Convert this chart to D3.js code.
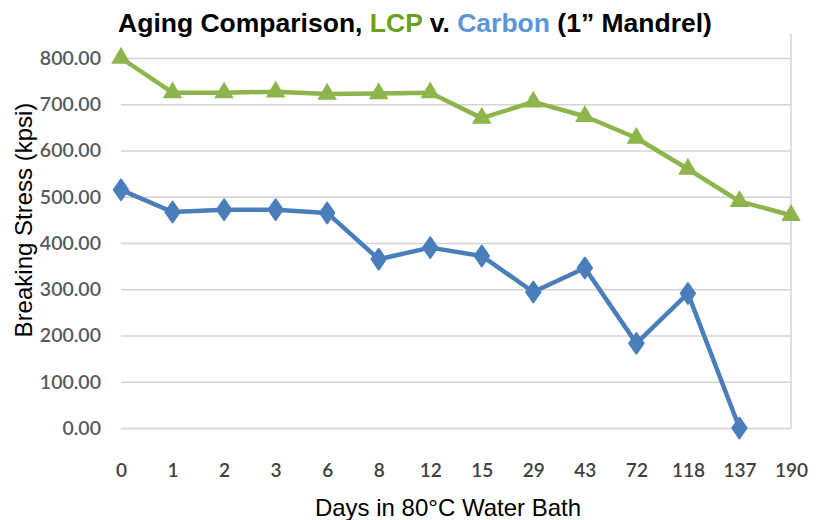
<!DOCTYPE html>
<html><head><meta charset="utf-8">
<script src="https://cdn.jsdelivr.net/npm/d3@7/dist/d3.min.js"></script>
<style>body{margin:0;background:#fff}svg{display:block}</style>
</head><body><svg id="c" width="821" height="520"></svg>
<script>
const days = ["0","1","2","3","6","8","12","15","29","43","72","118","137","190"];
const lcp = [800,725,725,727,722,723,725,670,705,674,627,560,490,460];
const carbon = [515,467,472,472,465,365,390,372,294,346,183,291,0];
const yTicks = [0,100,200,300,400,500,600,700,800];

const svg = d3.select("#c");
const L = 121, R = 791, T = 58, B = 428;
const x = d3.scalePoint().domain(days).range([L, R]);
const y = d3.scaleLinear().domain([0, 800]).range([B, T]);

// gridlines
svg.append("g").attr("transform", `translate(${L},0)`)
  .call(d3.axisLeft(y).tickValues(yTicks).tickSize(-(R - L)).tickFormat(""))
  .call(g => g.select(".domain").remove())
  .call(g => g.selectAll("line").attr("stroke", "#d4d4d4").attr("stroke-width", 1.5));
// right border
svg.append("line").attr("x1", R).attr("x2", R).attr("y1", 34).attr("y2", B)
  .attr("stroke", "#d4d4d4").attr("stroke-width", 1.5);

// y tick labels
svg.append("g").attr("transform", `translate(101,0)`)
  .call(d3.axisLeft(y).tickValues(yTicks).tickSize(0).tickPadding(0).tickFormat(d3.format(".2f")))
  .call(g => g.select(".domain").remove())
  .call(g => g.selectAll("text").attr("fill", "#595959")
    .style("font-family", "Lato, 'Open Sans', sans-serif").style("font-size", "19.5px").style("font-weight", "600"));

// x tick labels
svg.append("g").attr("transform", `translate(0,${B + 35})`)
  .call(d3.axisBottom(x).tickSize(0).tickPadding(0))
  .call(g => g.select(".domain").remove())
  .call(g => g.selectAll("text").attr("fill", "#404040")
    .style("font-family", "Lato, 'Open Sans', sans-serif").style("font-size", "19px").style("font-weight", "600"));

// lines
const line = d3.line().x((d, i) => x(days[i])).y(d => y(d));
svg.append("path").datum(lcp).attr("d", line).attr("fill", "none")
  .attr("stroke", "#8db54b").attr("stroke-width", 4.5).attr("stroke-linejoin", "round");
svg.append("path").datum(carbon).attr("d", line).attr("fill", "none")
  .attr("stroke", "#4a7ebb").attr("stroke-width", 4.5).attr("stroke-linejoin", "round");

// markers
const tri = d3.symbol().type(d3.symbolTriangle).size(165);
svg.append("g").selectAll("path").data(lcp).join("path")
  .attr("d", tri).attr("fill", "#8db54b")
  .attr("transform", (d, i) => `translate(${x(days[i])},${y(d)})`);
const dia = d3.symbol().type(d3.symbolDiamond).size(130);
svg.append("g").selectAll("path").data(carbon).join("path")
  .attr("d", dia).attr("fill", "#4a7ebb")
  .attr("stroke", "#4a7ebb").attr("stroke-width", 1.5).attr("stroke-linejoin", "round")
  .attr("transform", (d, i) => `translate(${x(days[i])},${y(d)}) scale(1.2,1)`);

// title
const t = svg.append("text").attr("x", 415).attr("y", 32).attr("text-anchor", "middle")
  .style("font-family", "'Liberation Sans', Arial, sans-serif").style("font-weight", "bold").style("font-size", "26.5px")
  .attr("fill", "#000");
t.append("tspan").text("Aging Comparison, ");
t.append("tspan").text("LCP").attr("fill", "#6aa121");
t.append("tspan").text(" v. ");
t.append("tspan").text("Carbon").attr("fill", "#5b95d6");
t.append("tspan").text(" (1\u201D Mandrel)");

// axis titles
svg.append("text").attr("x", 448).attr("y", 516).attr("text-anchor", "middle")
  .style("font-family", "'Liberation Sans', Arial, sans-serif").style("font-size", "24px").attr("fill", "#000")
  .text("Days in 80°C Water Bath");
svg.append("text").attr("transform", "translate(32,220) rotate(-90)").attr("text-anchor", "middle")
  .style("font-family", "'Liberation Sans', Arial, sans-serif").style("font-size", "24px").attr("fill", "#000")
  .text("Breaking Stress (kpsi)");
</script></body></html>
